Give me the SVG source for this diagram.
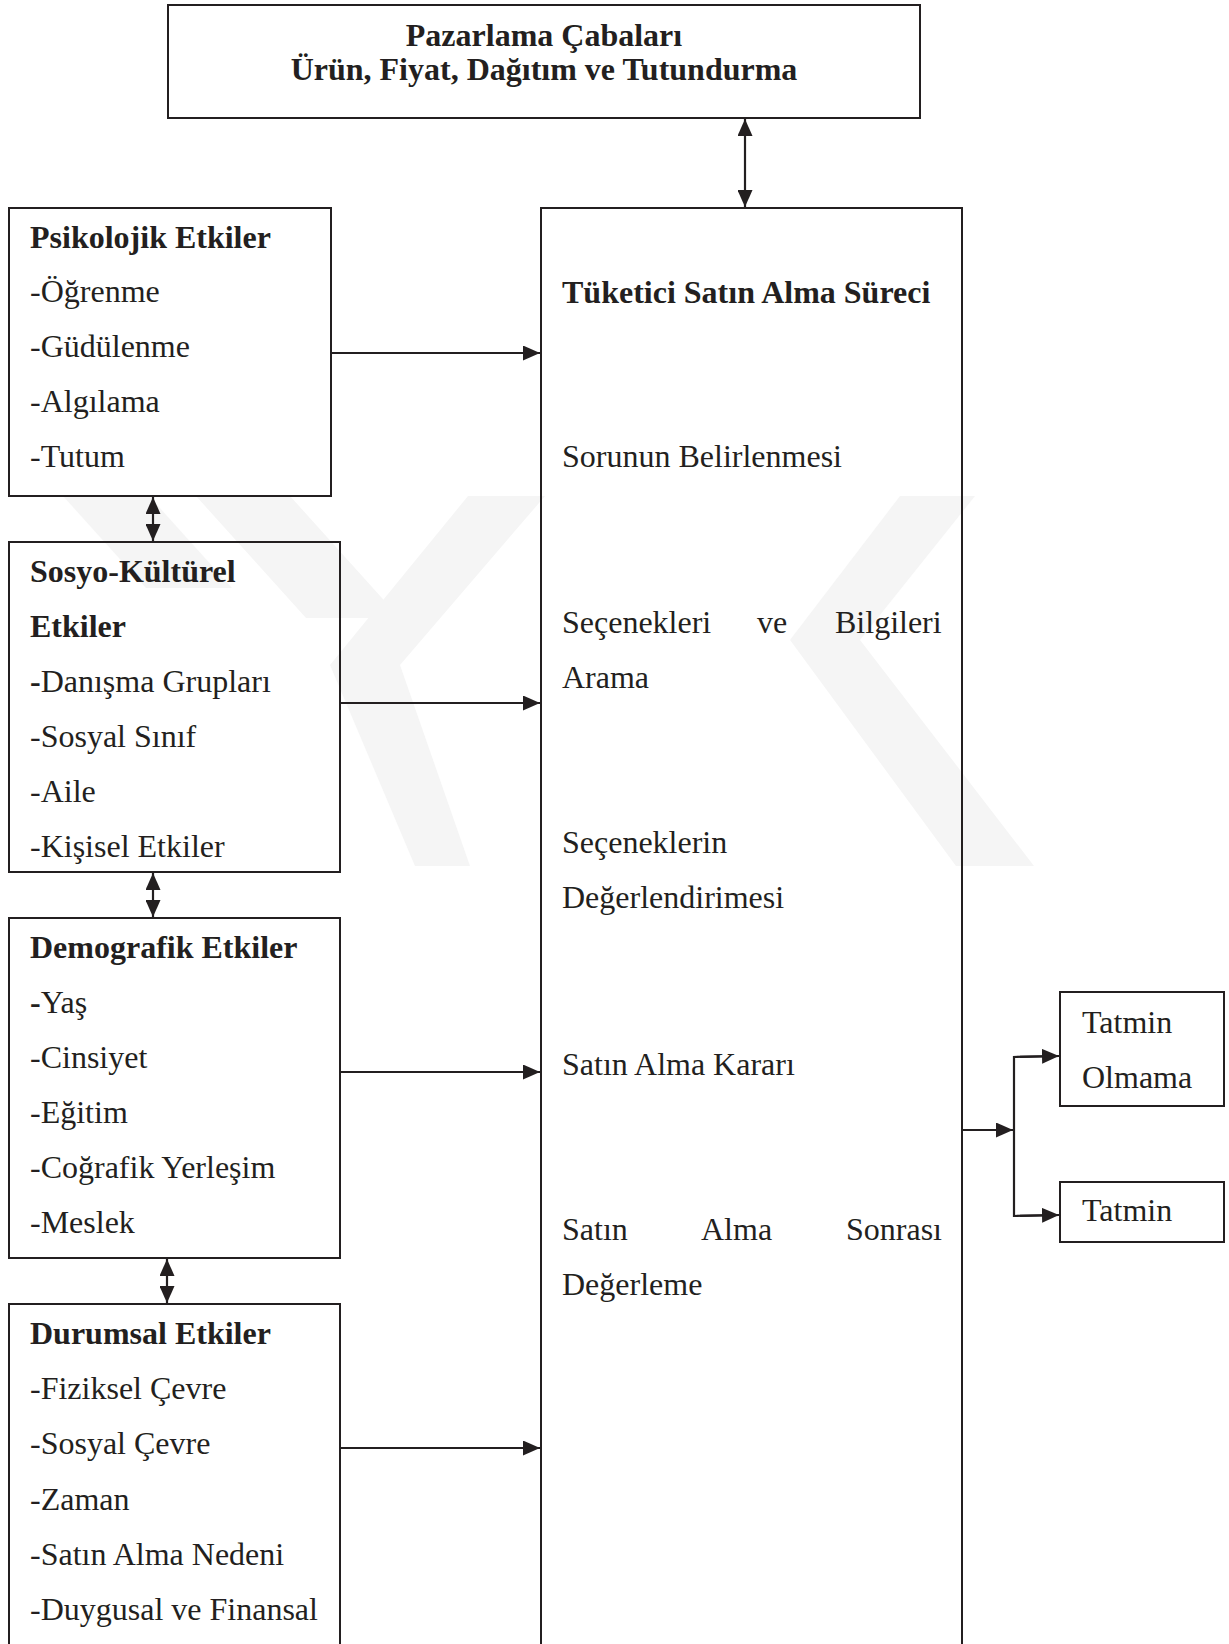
<svg xmlns="http://www.w3.org/2000/svg" width="1229" height="1644" viewBox="0 0 1229 1644">
<style>
  .box { fill: none; stroke: #231f20; stroke-width: 2; }
  .t { font-family: "Liberation Serif", "Times New Roman", serif; font-size: 32px; fill: #231f20; }
  .b { font-weight: bold; }
  .c { stroke: #231f20; stroke-width: 2.2; fill: none; }
  .wm { fill: #f5f5f5; }
</style>
<defs>
  <marker id="ah" viewBox="0 0 17 15" refX="17" refY="7.5" markerWidth="17" markerHeight="15" markerUnits="userSpaceOnUse" orient="auto-start-reverse">
    <path d="M0,0 L17,7.5 L0,15 Z" fill="#231f20"/>
  </marker>
</defs>
<rect width="1229" height="1644" fill="#ffffff"/>

<g id="watermark">
  <polygon class="wm" points="63,496 149,496 232,588 146,588"/>
  <polygon class="wm" points="196,496 290,496 400,618 306,618"/>
  <polygon class="wm" points="468,496 545,496 400,665 330,665"/>
  <polygon class="wm" points="330,665 400,665 470,866 415,866"/>
  <polygon class="wm" points="900,496 975,496 860,640 790,640"/>
  <polygon class="wm" points="790,640 860,640 1034,866 956,866"/>
</g>

<g id="top">
  <rect class="box" x="168" y="5" width="752" height="113"/>
  <text class="t b" x="544" y="46" text-anchor="middle">Pazarlama Çabaları</text>
  <text class="t b" x="544" y="80" text-anchor="middle">Ürün, Fiyat, Dağıtım ve Tutundurma</text>
</g>

<g id="psikolojik">
  <rect class="box" x="9" y="208" width="322" height="288"/>
  <text class="t b" x="30" y="248">Psikolojik Etkiler</text>
  <text class="t" x="30" y="302">-Öğrenme</text>
  <text class="t" x="30" y="357">-Güdülenme</text>
  <text class="t" x="30" y="412">-Algılama</text>
  <text class="t" x="30" y="467">-Tutum</text>
</g>

<g id="sosyo">
  <rect class="box" x="9" y="542" width="331" height="330"/>
  <text class="t b" x="30" y="582">Sosyo-Kültürel</text>
  <text class="t b" x="30" y="637">Etkiler</text>
  <text class="t" x="30" y="692"><tspan font-weight="bold">-</tspan>Danışma Grupları</text>
  <text class="t" x="30" y="747">-Sosyal Sınıf</text>
  <text class="t" x="30" y="802">-Aile</text>
  <text class="t" x="30" y="857">-Kişisel Etkiler</text>
</g>

<g id="demografik">
  <rect class="box" x="9" y="918" width="331" height="340"/>
  <text class="t b" x="30" y="958">Demografik Etkiler</text>
  <text class="t" x="30" y="1013"><tspan font-weight="bold">-</tspan>Yaş</text>
  <text class="t" x="30" y="1068">-Cinsiyet</text>
  <text class="t" x="30" y="1123">-Eğitim</text>
  <text class="t" x="30" y="1178">-Coğrafik Yerleşim</text>
  <text class="t" x="30" y="1233">-Meslek</text>
</g>

<g id="durumsal">
  <rect class="box" x="9" y="1304" width="331" height="360"/>
  <text class="t b" x="30" y="1344">Durumsal Etkiler</text>
  <text class="t" x="30" y="1399">-Fiziksel Çevre</text>
  <text class="t" x="30" y="1454">-Sosyal Çevre</text>
  <text class="t" x="30" y="1510">-Zaman</text>
  <text class="t" x="30" y="1565">-Satın Alma Nedeni</text>
  <text class="t" x="30" y="1620">-Duygusal ve Finansal</text>
</g>

<g id="surec">
  <rect class="box" x="541" y="208" width="421" height="1456"/>
  <text class="t b" x="562" y="303">Tüketici Satın Alma Süreci</text>
  <text class="t" x="562" y="467">Sorunun Belirlenmesi</text>
  <text class="t" y="633"><tspan x="562">Seçenekleri</tspan><tspan x="757">ve</tspan><tspan x="835">Bilgileri</tspan></text>
  <text class="t" x="562" y="688">Arama</text>
  <text class="t" x="562" y="853">Seçeneklerin</text>
  <text class="t" x="562" y="908">Değerlendirimesi</text>
  <text class="t" x="562" y="1075">Satın Alma Kararı</text>
  <text class="t" y="1240"><tspan x="562">Satın</tspan><tspan x="701">Alma</tspan><tspan x="846">Sonrası</tspan></text>
  <text class="t" x="562" y="1295">Değerleme</text>
</g>

<g id="tatmin-olmama">
  <rect class="box" x="1060" y="992" width="164" height="114"/>
  <text class="t" x="1082" y="1033">Tatmin</text>
  <text class="t" x="1082" y="1088">Olmama</text>
</g>

<g id="tatmin">
  <rect class="box" x="1060" y="1182" width="164" height="60"/>
  <text class="t" x="1082" y="1221">Tatmin</text>
</g>

<g id="connectors">
  <line class="c" x1="745" y1="119" x2="745" y2="207" marker-start="url(#ah)" marker-end="url(#ah)"/>
  <line class="c" x1="331" y1="353" x2="540" y2="353" marker-end="url(#ah)"/>
  <line class="c" x1="340" y1="703" x2="540" y2="703" marker-end="url(#ah)"/>
  <line class="c" x1="340" y1="1072" x2="540" y2="1072" marker-end="url(#ah)"/>
  <line class="c" x1="340" y1="1448" x2="540" y2="1448" marker-end="url(#ah)"/>
  <line class="c" x1="153" y1="497" x2="153" y2="541" marker-start="url(#ah)" marker-end="url(#ah)"/>
  <line class="c" x1="153" y1="873" x2="153" y2="917" marker-start="url(#ah)" marker-end="url(#ah)"/>
  <line class="c" x1="167" y1="1259" x2="167" y2="1303" marker-start="url(#ah)" marker-end="url(#ah)"/>
  <line class="c" x1="962" y1="1130" x2="1013" y2="1130" marker-end="url(#ah)"/>
  <polyline class="c" points="1059,1056 1014,1057 1014,1216 1059,1215"/>
  <line class="c" x1="1020" y1="1056.8" x2="1059" y2="1056" marker-end="url(#ah)"/>
  <line class="c" x1="1020" y1="1215.8" x2="1059" y2="1215" marker-end="url(#ah)"/>
</g>
</svg>
